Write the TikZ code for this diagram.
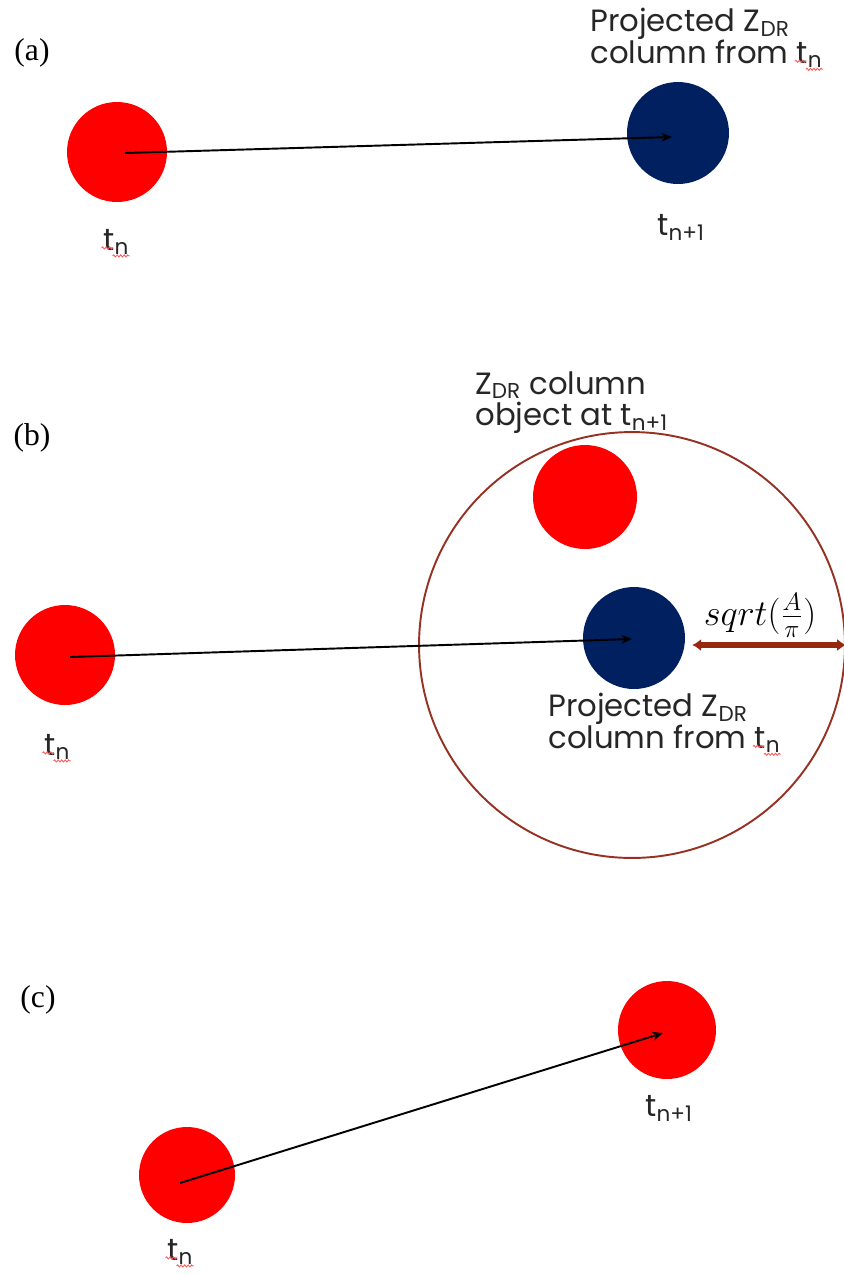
\documentclass[tikz,border=0pt]{standalone}
\usepackage{fontspec}
\setmainfont{Liberation Serif}
\newfontfamily\gothic{Poppins}
\usetikzlibrary{arrows.meta,decorations.pathmorphing,calc}
\definecolor{dotred}{RGB}{255,0,0}
\definecolor{dotblue}{RGB}{0,32,96}
\definecolor{ringbrown}{RGB}{150,50,35}
\definecolor{arrowbrown}{RGB}{150,40,15}
\definecolor{squigred}{RGB}{255,90,90}

\tikzset{
  reddot/.style={circle, fill=dotred, inner sep=0pt, minimum size=#1},
  reddot/.default=2cm,
  bluedot/.style={circle, fill=dotblue, inner sep=0pt, minimum size=2.04cm},
  searchring/.style={circle, draw=ringbrown, line width=1.1pt, inner sep=0pt, minimum size=8.52cm},
  motion/.style={-{Stealth[length=6pt,width=5pt]}, line width=1.1pt, black},
  radiusarrow/.style={{Latex[length=5pt,width=7pt]}-{Latex[length=5pt,width=7pt]}, line width=3.4pt, arrowbrown},
  lbl/.style={font=\gothic\fontsize{17.5}{18}\selectfont, inner sep=0pt, text=black!85},
  lbltwo/.style={lbl, align=left, anchor=north west},
  panel/.style={font=\fontsize{18}{20}\selectfont, inner sep=0pt},
  squiggle/.style={squigred, line width=0.5pt, decorate,
    decoration={snake, segment length=2pt, amplitude=0.6pt}}
}
\newcommand{\spellmark}[1]{%
  \draw[squiggle] ($(#1.south east)+(-28,-7)$) -- ++(11,0);
  \draw[squiggle] ($(#1.south east)+(-17,1)$) -- ++(17,0);}

\begin{document}
\begin{tikzpicture}[x=0.02cm, y=-0.02cm]
\useasboundingbox (0,0) rectangle (844,1276);

% (a)
\node[panel] (a-tag) at (32,53) {(a)};
\node[reddot] (a-old) at (117,152) {};
\node[bluedot] (a-proj) at (678,133) {};
\draw[motion] ($(a-old)+(8,1)$) -- ($(a-proj)+(-6,4)$);
\node[lbl, anchor=base west] (a-tn) at (103,250) {t\textsubscript{n}};
\node[lbl, anchor=base west] (a-tn1) at (657,235) {t\textsubscript{n+1}};
\node[lbltwo] (a-projtxt) at (590,8) {Projected Z\textsubscript{DR}\\column from t\textsubscript{n}};
\spellmark{a-tn}
\spellmark{a-projtxt}

% (b)
\node[panel] (b-tag) at (32,438) {(b)};
\node[searchring] (b-search) at (632,645) {};
\node[reddot=2.08cm] (b-new) at (585,497) {};
\node[reddot] (b-old) at (65,655) {};
\node[bluedot] (b-proj) at (634,638) {};
\draw[motion] ($(b-old)+(5,2)$) -- ($(b-proj)+(-2,1)$);
\draw[radiusarrow] ($(b-proj.east |- b-search.east)+(7,0)$) -- (b-search.east);
\node[font=\fontsize{21}{24}\selectfont, inner sep=0pt, anchor=south] (b-radius) at (760,638) {$sqrt(\frac{A}{\pi})$};
\node[lbl, anchor=base west] (b-tn) at (44,755) {t\textsubscript{n}};
\node[lbltwo] (b-objtxt) at (475,371) {Z\textsubscript{DR} column\\object at t\textsubscript{n+1}};
\node[lbltwo] (b-projtxt) at (548,693) {Projected Z\textsubscript{DR}\\column from t\textsubscript{n}};
\spellmark{b-tn}
\spellmark{b-projtxt}

% (c)
\node[panel] (c-tag) at (38,1000) {(c)};
\node[reddot=1.96cm] (c-new) at (667,1030) {};
\node[reddot=1.92cm] (c-old) at (187,1175) {};
\draw[motion] ($(c-old)+(-7,8)$) -- ($(c-new)+(-4,3)$);
\node[lbl, anchor=base west] (c-tn1) at (645,1116) {t\textsubscript{n+1}};
\node[lbl, anchor=base west] (c-tn) at (167,1260) {t\textsubscript{n}};
\spellmark{c-tn}

\end{tikzpicture}
\end{document}
